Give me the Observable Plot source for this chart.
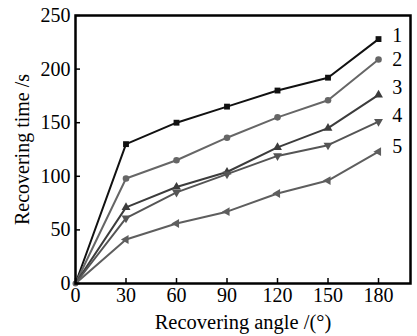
<!DOCTYPE html>
<html><head><meta charset="utf-8">
<script src="https://cdn.jsdelivr.net/npm/d3@7"></script>
<script src="https://cdn.jsdelivr.net/npm/@observablehq/plot@0.6"></script>
<style>
body{margin:0;background:#fff;}
svg, svg text, svg g { font-family: "Liberation Serif", "DejaVu Serif", serif !important; }
</style></head><body>
<div id="chart"></div>
<script>
const angles = [0, 30, 60, 90, 120, 150, 180];
const seriesNames = ["1", "2", "3", "4", "5"];
const s1 = [0, 130, 150, 165, 180, 192, 228];
const s2 = [0, 98, 115, 136, 155, 171, 209];
const s3 = [0, 71, 90, 104, 127, 145, 176];
const s4 = [0, 61, 85, 102, 119, 129, 151];
const s5 = [0, 41, 56, 67, 84, 96, 123];
const labelY = [231, 209, 183, 157, 128];
const xTicks = [0, 30, 60, 90, 120, 150, 180];
const yTicks = [0, 50, 100, 150, 200, 250];

const allSeries = [s1, s2, s3, s4, s5];
const colors = ["#111111", "#666666", "#3c3c3c", "#555555", "#5e5e5e"];
const symbols = ["square", "circle", "triangle", "triangle", "triangle"];
const rotations = [0, 0, 0, 180, -90];
const serif = "Liberation Serif";

const data = [];
allSeries.forEach((vals, i) => vals.forEach((v, j) => data.push({series: seriesNames[i], x: angles[j], y: v, idx: i})));
const labels = seriesNames.map((s, i) => ({series: s, y: labelY[i]}));

const marks = [];
allSeries.forEach((vals, i) => {
  const d = data.filter(p => p.idx === i);
  marks.push(Plot.line(d, {x: "x", y: "y", stroke: colors[i], strokeWidth: 2}));
  marks.push(Plot.dot(d.filter(p => p.x > 0), {x: "x", y: "y", fill: colors[i], stroke: "none", symbol: () => symbols[i], r: 3.3, rotate: rotations[i]}));
});
marks.push(Plot.dot(data.filter(p => p.x === 0 && p.idx === 1), {x: "x", y: "y", fill: "#666", r: 3}));

const chart = Plot.plot({
  width: 417,
  height: 336,
  marginLeft: 75,
  marginRight: 7,
  marginTop: 15,
  marginBottom: 53,
  style: {fontFamily: serif, background: "#fff", color: "#000"},
  x: {domain: [0, 199], ticks: xTicks},
  y: {domain: [0, 250], ticks: yTicks},
  marks: [
    ...marks,
    Plot.text(labels, {x: 190, y: "y", text: "series", fontSize: 20, fontFamily: serif, fill: "#000", textAnchor: "start", dx: -3}),
    Plot.axisX({ticks: xTicks, tickSize: -5, tickPadding: 9, fontSize: 20, fontFamily: serif, label: null, stroke: "#000", strokeWidth: 1.5}),
    Plot.axisY({ticks: yTicks, tickSize: -5, tickPadding: 10, fontSize: 20, fontFamily: serif, label: null, stroke: "#000", strokeWidth: 1.5}),
    Plot.text(["Recovering angle /(°)"], {frameAnchor: "bottom", dy: 39, fontSize: 20.5, fontFamily: serif, fill: "#000", lineAnchor: "middle", textAnchor: "middle"}),
    Plot.text(["Recovering time /s"], {frameAnchor: "left", dx: -53, rotate: -90, fontSize: 20, fontFamily: serif, fill: "#000", textAnchor: "middle", lineAnchor: "middle"}),
    Plot.frame({stroke: "#000", strokeWidth: 2.5})
  ]
});
document.getElementById("chart").appendChild(chart);
</script>
</body></html>
